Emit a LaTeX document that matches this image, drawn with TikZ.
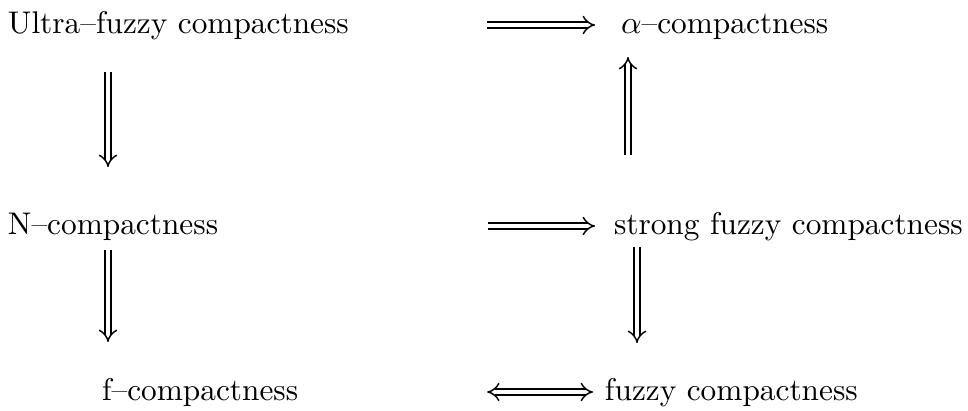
\documentclass[tikz,border=0pt]{standalone}
\usepackage{tikz}
\usetikzlibrary{calc,arrows.meta}

\begin{document}
\begin{tikzpicture}[x=0.12mm,y=0.12mm,
  lbl/.style={anchor=base west,inner sep=0pt,outer sep=0pt,font=\fontsize{10.7pt}{13pt}\selectfont},
  imp/.style={double,double distance=1.7pt,line width=0.5pt,-{Implies}},
  impboth/.style={double,double distance=1.7pt,line width=0.5pt,{Implies}-{Implies}}]

\useasboundingbox (0,0) rectangle (968,410);

\node[lbl] (ultra)  at (8,377)   {Ultra--fuzzy compactness};
\node[lbl] (alpha)  at (621,377) {$\alpha$--compactness};

\node[lbl] (ncomp)  at (8,176)   {N--compactness};
\node[lbl] (strong) at (614,176) {strong fuzzy compactness};

\node[lbl] (fcomp)  at (102,10)  {f--compactness};
\node[lbl] (fuzzy)  at (605,10)  {fuzzy compactness};

% horizontal implications
\draw [imp] ($(ultra.base east)+(138,8)$) -- ($(alpha.base west)+(-26,8)$);
\draw [imp] ($(ncomp.base east)+(270,8)$) -- ($(strong.base west)+(-19,8)$);
\draw [impboth] ($(fcomp.base east)+(189,8)$) -- ($(fuzzy.base west)+(-12,8)$);

% vertical implications
\draw [imp] ($(ultra.base west)+(100,-39)$) -- ($(ncomp.base west)+(100,67)$);
\draw [imp] ($(ncomp.base west)+(100,-16)$) -- ($(fcomp.base west)+(6,58)$);
\draw [imp] ($(strong.base west)+(14,79)$) -- ($(alpha.base west)+(7,-24)$);
\draw [imp] ($(strong.base west)+(23,-13)$) -- ($(fuzzy.base west)+(32,57)$);

\end{tikzpicture}
\end{document}
